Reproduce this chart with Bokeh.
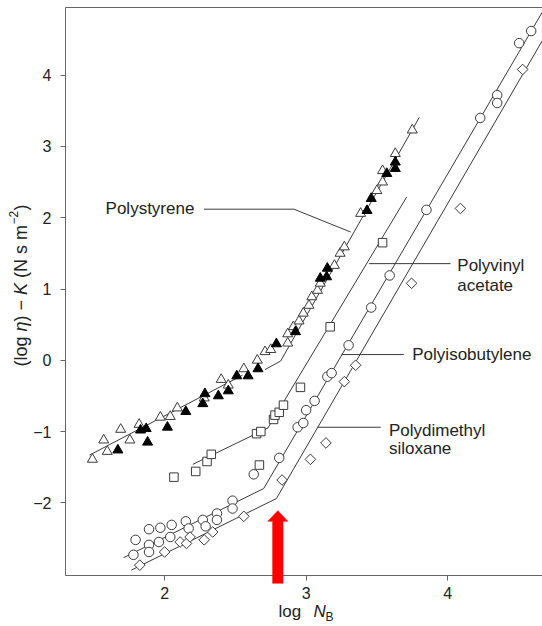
import math
from bokeh.plotting import figure
from bokeh.models import Range1d, FixedTicker, Label, PolyAnnotation, LinearAxis
from bokeh.embed import file_html
from bokeh.resources import INLINE

# ---------------- data ----------------
x_ticks = [2, 3, 4]
y_ticks = [-2, -1, 0, 1, 2, 3, 4]

# Polystyrene: open and filled triangles
ps_open_x = [1.49, 1.57, 1.595, 1.69, 1.755, 1.82, 1.97, 2.04, 2.09, 2.28, 2.40, 2.45, 2.56, 2.655,
             2.71, 2.75, 2.87, 2.87, 2.91, 2.95, 2.98, 3.02, 3.04, 3.08, 3.10, 3.20, 3.24, 3.27,
             3.385, 3.50, 3.54, 3.54, 3.63, 3.75]
ps_open_y = [-1.39, -1.12, -1.28, -0.97, -1.12, -0.90, -0.80, -0.79, -0.67, -0.53, -0.27, -0.35, -0.12, 0.00,
             0.12, 0.15, 0.24, 0.37, 0.47, 0.55, 0.66, 0.77, 0.89, 0.98, 1.08, 1.33, 1.50, 1.59,
             2.06, 2.38, 2.50, 2.66, 2.90, 3.23]
ps_fill_x = [1.67, 1.83, 1.87, 1.88, 2.02, 2.15, 2.27, 2.285, 2.38, 2.45, 2.51, 2.59, 2.66, 2.79,
             2.925, 3.10, 3.145, 3.15, 3.43, 3.46, 3.57, 3.63, 3.63]
ps_fill_y = [-1.26, -0.98, -0.96, -1.15, -0.94, -0.72, -0.61, -0.47, -0.50, -0.43, -0.22, -0.22, -0.12, 0.23,
             0.40, 1.15, 1.17, 1.29, 2.10, 2.27, 2.62, 2.69, 2.78]

# Polyvinyl acetate: squares
pva_x = [2.066, 2.22, 2.30, 2.33, 2.65, 2.67, 2.68, 2.77, 2.78, 2.81, 2.84, 2.96, 3.17, 3.54]
pva_y = [-1.64, -1.56, -1.42, -1.32, -1.03, -1.47, -1.00, -0.83, -0.77, -0.73, -0.63, -0.38, 0.47, 1.65]

# Polyisobutylene: circles
pib_x = [1.78, 1.795, 1.89, 1.89, 1.89, 1.96, 1.97, 2.04, 2.05, 2.15, 2.17, 2.27, 2.29, 2.37, 2.37,
         2.48, 2.48, 2.63, 2.81, 2.94, 2.98, 3.00, 3.06, 3.15, 3.18, 3.30, 3.46, 3.59, 3.85, 4.23,
         4.35, 4.35, 4.505, 4.59]
pib_y = [-2.73, -2.52, -2.37, -2.59, -2.69, -2.55, -2.35, -2.48, -2.31, -2.26, -2.36, -2.24, -2.33, -2.15, -2.24,
         -1.97, -2.08, -1.60, -1.37, -0.94, -0.88, -0.70, -0.57, -0.23, -0.18, 0.21, 0.74, 1.19, 2.11, 3.40,
         3.72, 3.61, 4.45, 4.62]

# Polydimethyl siloxane: diamonds
pdms_x = [1.825, 2.00, 2.11, 2.155, 2.18, 2.28, 2.34, 2.56, 2.83, 3.03, 3.14, 3.27, 3.35, 3.745, 4.09, 4.53]
pdms_y = [-2.875, -2.69, -2.55, -2.57, -2.48, -2.52, -2.41, -2.19, -1.68, -1.39, -1.16, -0.30, -0.07, 1.08, 2.13, 4.08]

# fitted lines (vertices)
ps_line1_x = [1.47, 2.55]
ps_line1_y = [-1.33, -0.21]
ps_line2_x = [2.71, 2.82, 3.80]
ps_line2_y = [-0.13, -0.01, 3.41]
pva_line_x = [2.20, 2.73, 3.71]
pva_line_y = [-1.46, -0.95, 2.29]
pib_line_x = [1.71, 2.70, 4.67]
pib_line_y = [-2.77, -1.80, 4.89]
pdms_line_x = [1.765, 2.79, 4.67]
pdms_line_y = [-2.945, -1.94, 4.49]

arrow_x = 2.80  # critical chain length marker

# ---------------- layout ----------------
W_PX, H_PX = 542, 626
X0, X1 = 1.30, 4.67      # plotted axis extent
Y0, Y1 = -3.02, 4.95
ML, MT, MB = 65, 7, 51   # margins of the axes box inside the canvas
PXX = (W_PX - ML) / (X1 - X0)
PXY = (H_PX - MT - MB) / (Y1 - Y0)
XL = X0 - ML / PXX
YT = Y1 + MT / PXY
YB = Y0 - MB / PXY

p = figure(width=W_PX, height=H_PX, x_range=Range1d(XL, X1), y_range=Range1d(YB, YT),
           output_backend="svg", toolbar_location=None,
           x_axis_location=None, y_axis_location=None,
           min_border_left=0, min_border_right=0, min_border_top=0, min_border_bottom=0)
p.grid.grid_line_color = None
p.outline_line_color = None
p.background_fill_color = "white"
p.border_fill_color = "white"

FONT = "Liberation Sans"
TXT = "#222222"
AX = "#666666"
LN = "#3a3a3a"

def style_axis(ax, ticks):
    ax.ticker = FixedTicker(ticks=ticks)
    ax.minor_tick_line_color = None
    ax.major_tick_in = 0
    ax.major_tick_out = 5
    ax.axis_line_color = AX
    ax.major_tick_line_color = AX
    ax.major_label_text_font = FONT
    ax.major_label_text_font_size = "16px"
    ax.major_label_text_color = TXT

xaxis = LinearAxis(fixed_location=Y0, bounds=(X0, X1))
style_axis(xaxis, x_ticks)
xaxis.major_label_standoff = 6
p.add_layout(xaxis, "below")

yaxis = LinearAxis(fixed_location=X0, bounds=(Y0, Y1))
style_axis(yaxis, y_ticks)
yaxis.major_label_standoff = 9
yaxis.major_label_overrides = {t: ("\u2212" + str(-t) if t < 0 else str(t)) for t in y_ticks}
p.add_layout(yaxis, "left")

topaxis = LinearAxis(fixed_location=Y1, bounds=(X0, X1))
topaxis.ticker = FixedTicker(ticks=[])
topaxis.minor_tick_line_color = None
topaxis.major_tick_line_color = None
topaxis.axis_line_color = AX
p.add_layout(topaxis, "above")

# lines
for lx, ly in ((ps_line1_x, ps_line1_y), (ps_line2_x, ps_line2_y), (pva_line_x, pva_line_y),
               (pib_line_x, pib_line_y), (pdms_line_x, pdms_line_y)):
    p.line(lx, ly, line_color=LN, line_width=1)

# leader lines for labels
leaders = [
    ([2.278, 2.914, 3.314], [2.12, 2.12, 1.80]),
    ([3.444, 4.02], [1.356, 1.356]),
    ([3.25, 3.69], [0.08, 0.08]),
    ([3.079, 3.527], [-0.94, -0.94]),
]
for lx, ly in leaders:
    p.line(lx, ly, line_color=LN, line_width=1)

# markers
p.scatter(ps_open_x, ps_open_y, marker="triangle", size=10, fill_color="white", line_color=LN, line_width=1)
p.scatter(ps_fill_x, ps_fill_y, marker="triangle", size=10, fill_color="black", line_color="black", line_width=1)
p.scatter(pva_x, pva_y, marker="square", size=8.5, fill_color="white", line_color=LN, line_width=1)
p.scatter(pib_x, pib_y, marker="circle", size=9.5, fill_color="white", line_color=LN, line_width=1)
p.scatter(pdms_x, pdms_y, marker="square", angle=math.pi / 4, size=7.5, fill_color="white", line_color=LN,
          line_width=1)

# series labels
def lab(x, y, text, size="17px", style="normal", baseline="middle", align="left", angle=0.0):
    p.add_layout(Label(x=x, y=y, text=text, text_font=FONT, text_font_size=size, text_font_style=style,
                       text_color=TXT, text_baseline=baseline, text_align=align, angle=angle))

lab(1.583, 2.13, "Polystyrene")
lab(4.068, 1.332, "Polyvinyl")
lab(4.068, 1.052, "acetate")
lab(3.75, 0.084, "Polyisobutylene")
lab(3.585, -0.98, "Polydimethyl")
lab(3.585, -1.234, "siloxane")

# red arrow
hw_s = 5.2 / PXX
hw_h = 10.0 / PXX
tip, base, bottom = -2.11, -2.26, -3.13
p.add_layout(PolyAnnotation(
    xs=[arrow_x, arrow_x + hw_h, arrow_x + hw_s, arrow_x + hw_s, arrow_x - hw_s, arrow_x - hw_s, arrow_x - hw_h],
    ys=[tip, base, base, bottom, bottom, base, base],
    fill_color="#ff0000", fill_alpha=1.0, line_color="#ff0000", line_alpha=1.0, line_width=0.5))

# axis titles composed of pieces (mixed italic / sub / superscript)
def px2x(px):
    return XL + px / PXX
def px2y(py):
    return YT - py / PXY

W = {'(': 333, 'l': 222, 'o': 556, 'g': 556, ' ': 278, '\u03b7': 556, ')': 333, '\u2212': 584,
     'K': 667, 'N': 722, 's': 500, 'm': 833, '2': 556}
def tw(s, size):
    return sum(W[c] for c in s) * size / 1000.0

ys_ = 18
# (text, style, size, superscript shift px, leading gap px)
pieces = [("(log", "normal", ys_, 0, 0), ("\u03b7", "italic", ys_, 0, tw(" ", ys_)),
          (") \u2212", "normal", ys_, 0, 0), ("K", "italic", ys_, 0, tw(" ", ys_)),
          ("(N s m", "normal", ys_, 0, tw(" ", ys_)), ("\u22122", "normal", 12, 7, 0.5),
          (")", "normal", ys_, 0, 0.5)]
total = sum(tw(t, s) + g for t, _, s, _, g in pieces)
cur = 285 + total / 2
for t, st, s, up, g in pieces:
    cur -= g
    lab(px2x(20 - up), px2y(cur), t, size=f"{s}px", style=st, angle=math.pi / 2)
    cur -= tw(t, s)

lab(px2x(278), px2y(611), "log", size="17px")
lab(px2x(313), px2y(611), "N", size="17px", style="italic")
lab(px2x(325), px2y(616), "B", size="12px")

open("out.html", "w").write(file_html(p, INLINE))
